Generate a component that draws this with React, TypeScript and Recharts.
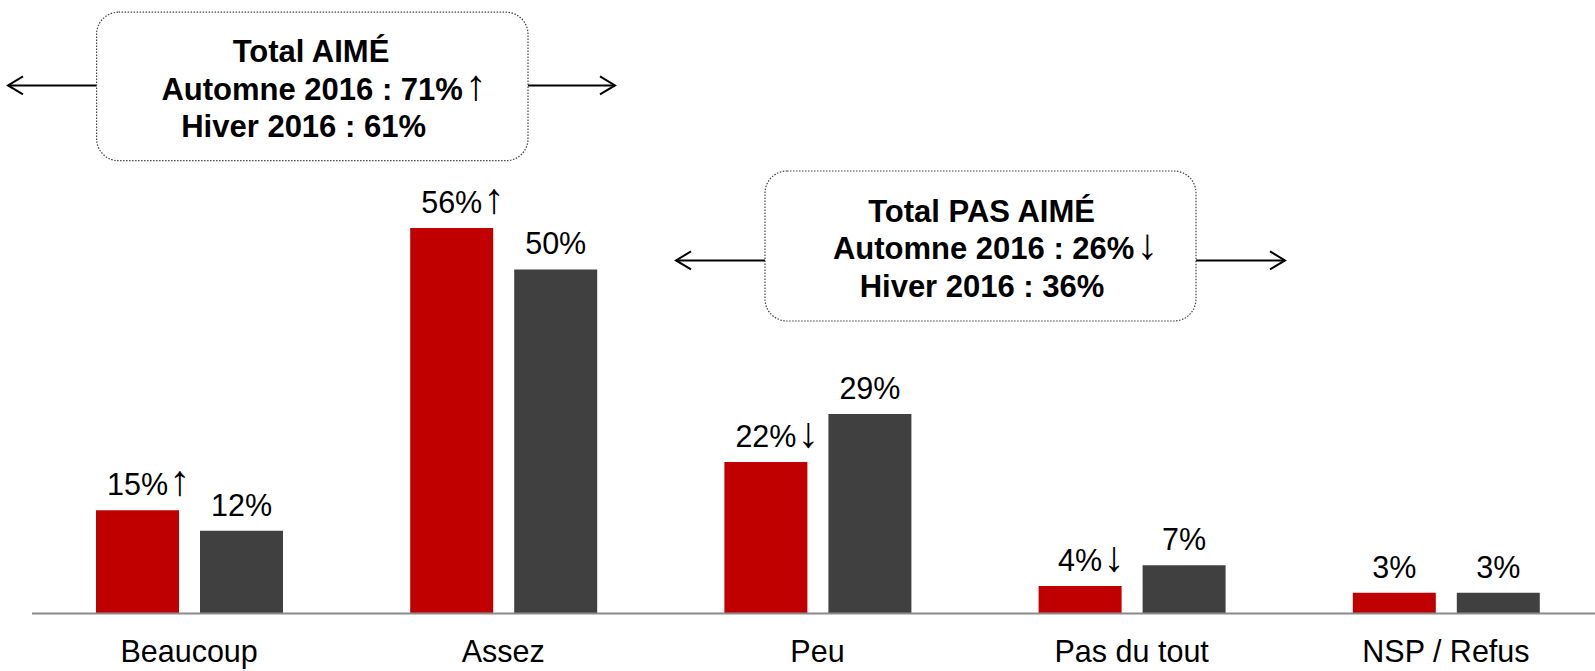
import React from "react";
import { BarChart, Bar, XAxis, YAxis, LabelList } from "recharts";

const categories = ["Beaucoup", "Assez", "Peu", "Pas du tout", "NSP / Refus"];
const automne2016 = [15, 56, 22, 4, 3];
const hiver2016 = [12, 50, 29, 7, 3];
// significance markers shown after the autumn values
const automneTrend = ["↑", "↑", "↓", "↓", ""];
const hiverTrend = ["", "", "", "", ""];

const FONT = '"Liberation Sans", Arial, sans-serif';
const RED = "#C00000";
const GRAY = "#404040";
const FS = 30.5;

const data = categories.map((name, i) => ({
  name,
  automne: automne2016[i],
  hiver: hiver2016[i],
}));

// value centred on the bar, trend arrow hanging after it
function makeLabel(values: number[], trend: string[]) {
  return (props: any) => {
    const { x, y, width, index } = props;
    const txt = `${values[index]}%`;
    const cx = x + width / 2;
    const half = ((txt.length - 1) * 0.556 + 0.889) * FS / 2;
    const t = trend[index];
    return (
      <g>
        <text x={cx} y={y - 15} textAnchor="middle" fontFamily={FONT} fontSize={FS} fill="#000">
          {txt}
        </text>
        {t && (
          <text x={cx + half + 1} y={y - 15} fontFamily={FONT} fontSize={FS * 1.4} fill="#000">
            {t}
          </text>
        )}
      </g>
    );
  };
}

function Arrow({ x1, x2, y }: { x1: number; x2: number; y: number }) {
  const dir = x2 > x1 ? -1 : 1;
  return (
    <g stroke="#000" strokeWidth={2} fill="none">
      <line x1={x1} y1={y} x2={x2} y2={y} />
      <polyline points={`${x2 + dir * 15},${y - 9} ${x2},${y} ${x2 + dir * 15},${y + 9}`} />
    </g>
  );
}

type Line = { text: string; arrow?: string; cx: number; by: number };

function Box({ x, y, w, h, lines }: { x: number; y: number; w: number; h: number; lines: Line[] }) {
  return (
    <g>
      <rect x={x} y={y} width={w} height={h} rx={22} ry={22} fill="#fff" stroke="#444" strokeWidth={1.2} strokeDasharray="1.5 1.5" />
      {lines.map((l) => (
        <text key={l.text} x={l.cx} y={l.by} textAnchor="middle" fontFamily={FONT} fontWeight="bold" fontSize={31} fill="#000">
          {l.text}
          {l.arrow && <tspan dx={2} fontWeight="normal" fontSize={31 * 1.4}>{l.arrow}</tspan>}
        </text>
      ))}
    </g>
  );
}

export default function App() {
  return (
    <div style={{ position: "absolute", left: 0, top: 0, width: 1595, height: 671, overflow: "hidden", background: "#fff" }}>
      <BarChart
        width={1603}
        height={671}
        data={data}
        margin={{ top: 63, right: 0, bottom: 0, left: 32 }}
        barGap={21}
        barSize={83}
      >
        <YAxis hide domain={[0, 80]} />
        <XAxis
          dataKey="name"
          height={57.6}
          axisLine={{ stroke: "#8a8a8a", strokeWidth: 2 }}
          tickLine={false}
          tickSize={0}
          tickMargin={27}
          tick={{ fontSize: FS, fill: "#000", fontFamily: FONT }}
          interval={0}
        />
        <Bar dataKey="automne" fill={RED} isAnimationActive={false}>
          <LabelList dataKey="automne" content={makeLabel(automne2016, automneTrend)} />
        </Bar>
        <Bar dataKey="hiver" fill={GRAY} isAnimationActive={false}>
          <LabelList dataKey="hiver" content={makeLabel(hiver2016, hiverTrend)} />
        </Bar>
      </BarChart>
      <svg width={1595} height={671} style={{ position: "absolute", left: 0, top: 0, pointerEvents: "none" }}>
        <Arrow x1={97} x2={8} y={85.4} />
        <Arrow x1={528} x2={615} y={85.4} />
        <Box
          x={96.6}
          y={12.2}
          w={431.4}
          h={148.5}
          lines={[
            { text: "Total AIMÉ", cx: 311, by: 62 },
            { text: "Automne 2016 : 71%", arrow: "↑", cx: 324, by: 99.7 },
            { text: "Hiver 2016 : 61%", cx: 303.6, by: 137.3 },
          ]}
        />
        <Arrow x1={765} x2={676} y={260.4} />
        <Arrow x1={1196} x2={1285} y={260.4} />
        <Box
          x={765}
          y={171}
          w={431}
          h={150}
          lines={[
            { text: "Total PAS AIMÉ", cx: 981.6, by: 221.7 },
            { text: "Automne 2016 : 26%", arrow: "↓", cx: 995.5, by: 259.4 },
            { text: "Hiver 2016 : 36%", cx: 982, by: 297 },
          ]}
        />
      </svg>
    </div>
  );
}
